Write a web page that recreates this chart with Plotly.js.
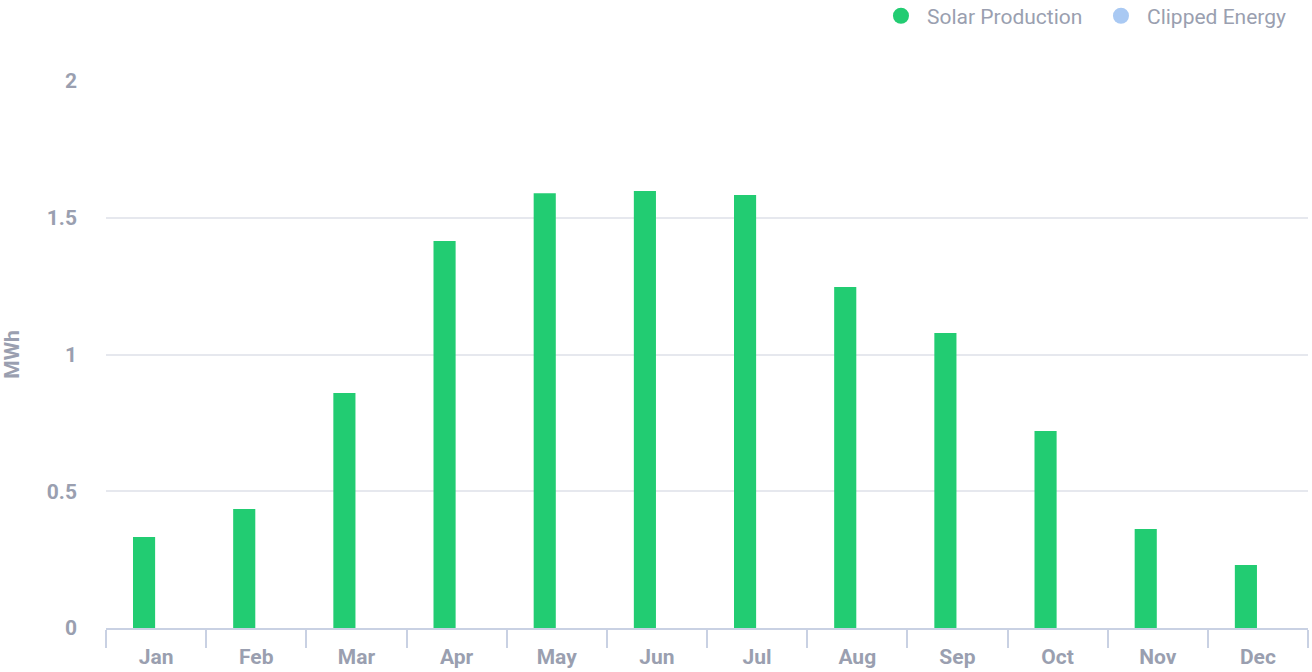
<!DOCTYPE html>
<html>
<head>
<meta charset="utf-8">
<script src="https://cdn.plot.ly/plotly-3.0.1.min.js"></script>
<style>html,body{margin:0;padding:0;background:#fff}#chart{width:1312px;height:672px}</style>
</head>
<body>
<div id="chart"></div>
<script>
const months = ["Jan","Feb","Mar","Apr","May","Jun","Jul","Aug","Sep","Oct","Nov","Dec"];
const solarProduction = [0.333, 0.435, 0.859, 1.415, 1.590, 1.598, 1.583, 1.247, 1.079, 0.720, 0.362, 0.230];
const clippedEnergy = [0, 0, 0, 0, 0, 0, 0, 0, 0, 0, 0, 0];
const yTicks = [0, 0.5, 1, 1.5, 2];
const yTickLabels = ["0", "0.5", "1", "1.5", "2"];

const gray = "#9a9fb0";
const data = [
  {type: "bar", x: months, y: solarProduction, name: "Solar Production", marker: {color: "#22cc72"}, showlegend: false},
  {type: "bar", x: months, y: clippedEnergy, name: "Clipped Energy", marker: {color: "rgba(120,170,240,0.6)", pattern: {shape: "/", fgcolor: "#ffffff", solidity: 0.4}}, showlegend: false},
  {type: "scatter", mode: "markers", x: [null], y: [null], name: "Solar Production", marker: {color: "#22cc72", size: 20, symbol: "circle"}, showlegend: true},
  {type: "scatter", mode: "markers", x: [null], y: [null], name: "Clipped Energy", marker: {color: "#a9c9f3", size: 20, symbol: "circle"}, showlegend: true}
];
const layout = {
  width: 1312, height: 672,
  margin: {l: 106, r: 4, t: 81, b: 44, autoexpand: false},
  paper_bgcolor: "#ffffff", plot_bgcolor: "#ffffff",
  font: {family: "Roboto, sans-serif", color: gray, size: 21},
  barmode: "group",
  bargap: 0.52,
  bargroupgap: 0.08,
  showlegend: true,
  legend: {orientation: "h", xref: "container", yref: "container", x: 0.6669, xanchor: "left", y: 0.976, yanchor: "middle",
           itemwidth: 42, entrywidth: 163, font: {size: 21, color: gray}},
  xaxis: {
    type: "category", categoryarray: months,
    showgrid: false, zeroline: false,
    showline: true, linecolor: "#c9d1e3", linewidth: 2,
    ticks: "outside", tickson: "boundaries", ticklen: 18, tickcolor: "#c9d1e3", tickwidth: 2,
    ticklabelstandoff: 9,
    tickfont: {size: 21, color: gray, family: "Roboto, sans-serif", weight: "bold"},
    fixedrange: true
  },
  yaxis: {
    range: [0, 2],
    tickvals: yTicks, ticktext: yTickLabels,
    showgrid: true, gridcolor: "#e6e8ee", gridwidth: 2,
    zeroline: false, showline: false,
    ticks: "", ticklabelstandoff: 28,
    tickfont: {size: 21, color: gray, family: "Roboto, sans-serif", weight: "bold"},
    title: {text: "MWh", font: {size: 21, color: gray, family: "Roboto, sans-serif", weight: "bold"}, standoff: 25},
    fixedrange: true
  }
};
Plotly.newPlot("chart", data, layout, {displayModeBar: false, staticPlot: true});
</script>
</body>
</html>
